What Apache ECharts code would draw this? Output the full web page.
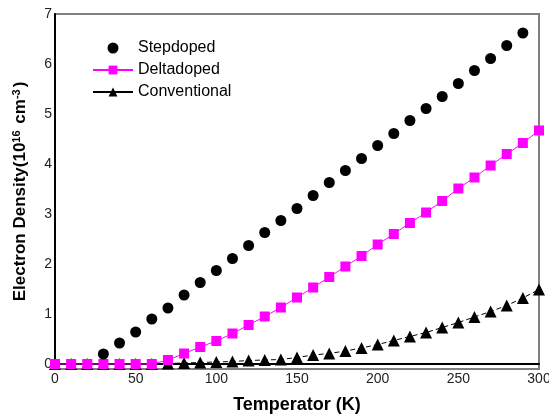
<!DOCTYPE html>
<html>
<head>
<meta charset="utf-8">
<script src="https://cdn.jsdelivr.net/npm/echarts@6/dist/echarts.min.js"></script>
<style>
  html, body { margin: 0; padding: 0; background: #fff; }
  #chart { width: 549px; height: 414px; }
</style>
</head>
<body>
<div id="chart"></div>
<script>
// temperatures (K)
var tempsAll = [0, 10, 20, 30, 40, 50, 60, 70, 80, 90, 100, 110, 120, 130, 140, 150,
    160, 170, 180, 190, 200, 210, 220, 230, 240, 250, 260, 270, 280, 290, 300];
var tempsStep = [30, 40, 50, 60, 70, 80, 90, 100, 110, 120, 130, 140, 150, 160, 170,
    180, 190, 200, 210, 220, 230, 240, 250, 260, 270, 280, 290];

// electron density (1e16 cm^-3)
var stepdoped = [0.2, 0.42, 0.64, 0.9, 1.12, 1.38, 1.63, 1.87, 2.11, 2.37, 2.63, 2.87, 3.11,
    3.37, 3.63, 3.87, 4.11, 4.37, 4.61, 4.87, 5.11, 5.35, 5.61, 5.87, 6.11, 6.37, 6.62];
var deltadoped = [0, 0, 0, 0, 0, 0, 0, 0.08, 0.21, 0.34, 0.46, 0.61, 0.78, 0.95, 1.13, 1.33,
    1.53, 1.74, 1.95, 2.16, 2.39, 2.6, 2.82, 3.03, 3.26, 3.51, 3.73, 3.97, 4.2, 4.42, 4.67];
var conventional = [0, 0, 0, 0, 0, 0, 0, 0.01, 0.02, 0.03, 0.04, 0.05, 0.07, 0.08, 0.09, 0.13,
    0.18, 0.21, 0.26, 0.32, 0.39, 0.47, 0.55, 0.63, 0.73, 0.83, 0.94, 1.05, 1.17, 1.32, 1.49];

var yTicks = [0, 1, 2, 3, 4, 5, 6, 7];

function pairs(xs, ys) {
    return xs.map(function (x, i) { return [x, ys[i]]; });
}

var font = 'Liberation Sans, Arial, sans-serif';
var myChart = echarts.init(document.getElementById('chart'));

myChart.setOption({
    animation: false,
    grid: {
        left: 55, right: 10, top: 14, bottom: 45,
        outerBoundsMode: 'none', containLabel: false,
        show: true, borderColor: '#808080', borderWidth: 2
    },
    legend: {
        orient: 'vertical',
        left: 87,
        top: 35,
        itemWidth: 40,
        itemHeight: 11,
        itemGap: 6,
        textStyle: { fontFamily: font, fontSize: 16, color: '#000' },
        data: [
            { name: 'Stepdoped' },
            { name: 'Deltadoped' },
            { name: 'Conventional', lineStyle: { type: 'solid' } }
        ]
    },
    xAxis: {
        type: 'value',
        min: 0,
        max: 300,
        interval: 50,
        name: 'Temperator (K)',
        nameLocation: 'middle',
        nameGap: 27,
        nameTextStyle: { fontFamily: font, fontSize: 18, fontWeight: 'bold', color: '#000' },
        axisLine: { lineStyle: { color: '#000', width: 2 } },
        axisTick: { show: false },
        splitLine: { show: false },
        axisLabel: { fontFamily: font, fontSize: 14, color: '#222', margin: 3 }
    },
    yAxis: {
        type: 'value',
        min: -0.1,
        max: 7,
        name: '{b|Electron Density(10}{sup|16}{b| cm}{sup|-3}{b|)}',
        nameLocation: 'middle',
        nameGap: 25,
        nameTextStyle: {
            rich: {
                b: { fontFamily: font, fontSize: 17, fontWeight: 'bold', color: '#000' },
                sup: { fontFamily: font, fontSize: 11, fontWeight: 'bold', color: '#000', verticalAlign: 'top', padding: [0, 2, 8, 0] }
            }
        },
        axisLine: { show: true, lineStyle: { color: '#000', width: 2 } },
        axisTick: { show: false },
        splitLine: { show: false },
        axisLabel: { fontFamily: font, fontSize: 14, color: '#222', margin: 3, customValues: yTicks }
    },
    series: [
        {
            name: 'Stepdoped',
            type: 'scatter',
            symbol: 'circle',
            symbolSize: 11,
            itemStyle: { color: '#000', opacity: 1 },
            z: 4,
            data: pairs(tempsStep, stepdoped)
        },
        {
            name: 'Deltadoped',
            type: 'line',
            symbol: 'rect',
            symbolSize: 10,
            itemStyle: { color: '#ff00ff' },
            lineStyle: { color: '#ff00ff', width: 1 },
            z: 3,
            data: pairs(tempsAll, deltadoped)
        },
        {
            name: 'Conventional',
            type: 'line',
            symbol: 'triangle',
            symbolSize: 12,
            itemStyle: { color: '#000' },
            lineStyle: { color: '#000', width: 1, type: [5, 3] },
            z: 2,
            data: pairs(tempsAll, conventional)
        }
    ]
});
</script>
</body>
</html>
